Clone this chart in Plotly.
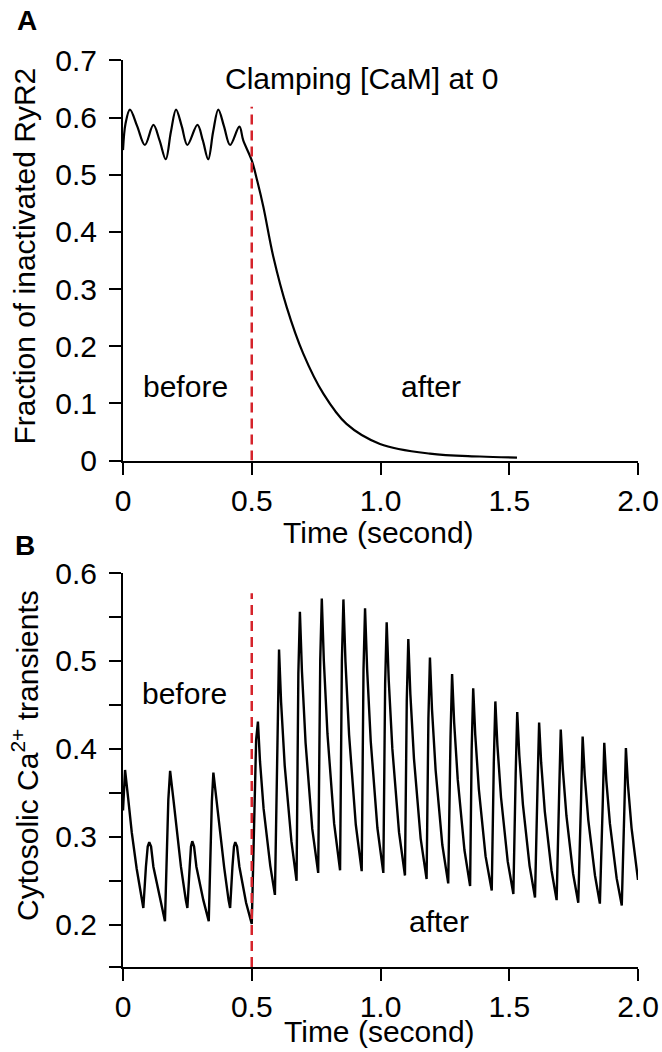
import plotly.graph_objects as go

# ---------------- Panel A: fraction of inactivated RyR2 ----------------
time_a = [0.000, 0.010, 0.027, 0.055, 0.085, 0.118, 0.142, 0.166, 0.186, 0.206,
          0.228, 0.250, 0.289, 0.310, 0.331, 0.350, 0.370, 0.392, 0.416, 0.452,
          0.467, 0.500, 0.522, 0.545, 0.584, 0.636, 0.700, 0.778, 0.868, 0.998,
          1.192, 1.386, 1.530]
ryr2_a = [0.543, 0.590, 0.614, 0.585, 0.552, 0.587, 0.560, 0.527, 0.575, 0.614,
          0.585, 0.552, 0.587, 0.560, 0.527, 0.575, 0.614, 0.585, 0.552, 0.584,
          0.560, 0.525, 0.488, 0.444, 0.356, 0.268, 0.187, 0.117, 0.064, 0.029,
          0.012, 0.007, 0.005]

# ---------------- Panel B: cytosolic Ca2+ transients ----------------
time_b = [0.000, 0.004, 0.008, 0.020, 0.034, 0.053, 0.072, 0.079,
          0.089, 0.096, 0.102, 0.109, 0.118, 0.144, 0.163,
          0.176, 0.183, 0.196, 0.209, 0.225, 0.244, 0.250,
          0.259, 0.264, 0.269, 0.276, 0.285, 0.312, 0.333,
          0.345, 0.351, 0.364, 0.377, 0.393, 0.410, 0.416,
          0.425, 0.431, 0.436, 0.443, 0.452, 0.478, 0.500,
          0.510, 0.517, 0.524, 0.532, 0.546, 0.572, 0.590,
          0.600, 0.606, 0.614, 0.628, 0.654, 0.674,
          0.681, 0.687, 0.695, 0.709, 0.735, 0.758,
          0.766, 0.772, 0.780, 0.794, 0.820, 0.843,
          0.850, 0.856, 0.864, 0.878, 0.904, 0.927,
          0.934, 0.940, 0.948, 0.962, 0.988, 1.011,
          1.018, 1.024, 1.032, 1.046, 1.072, 1.095,
          1.102, 1.108, 1.116, 1.130, 1.156, 1.179,
          1.186, 1.192, 1.200, 1.214, 1.240, 1.263,
          1.272, 1.278, 1.286, 1.300, 1.326, 1.348,
          1.354, 1.360, 1.368, 1.382, 1.408, 1.432,
          1.440, 1.446, 1.454, 1.468, 1.494, 1.516,
          1.525, 1.531, 1.539, 1.553, 1.579, 1.600,
          1.610, 1.616, 1.624, 1.638, 1.664, 1.684,
          1.694, 1.700, 1.708, 1.722, 1.748, 1.768,
          1.779, 1.785, 1.793, 1.807, 1.833, 1.852,
          1.863, 1.869, 1.877, 1.891, 1.917, 1.937,
          1.947, 1.953, 1.961, 1.975, 2.000]
ca_b = [0.330, 0.365, 0.376, 0.344, 0.305, 0.264, 0.228, 0.219,
        0.266, 0.289, 0.294, 0.289, 0.266, 0.228, 0.204,
        0.342, 0.375, 0.342, 0.305, 0.266, 0.228, 0.219,
        0.266, 0.289, 0.295, 0.289, 0.266, 0.228, 0.204,
        0.340, 0.373, 0.340, 0.303, 0.265, 0.228, 0.219,
        0.266, 0.289, 0.294, 0.289, 0.266, 0.225, 0.201,
        0.320, 0.410, 0.431, 0.386, 0.332, 0.267, 0.234,
        0.443, 0.513, 0.453, 0.381, 0.295, 0.250,
        0.486, 0.556, 0.488, 0.407, 0.309, 0.259,
        0.501, 0.571, 0.500, 0.417, 0.315, 0.262,
        0.500, 0.570, 0.499, 0.416, 0.314, 0.261,
        0.490, 0.560, 0.491, 0.409, 0.310, 0.259,
        0.474, 0.544, 0.478, 0.400, 0.305, 0.256,
        0.455, 0.525, 0.462, 0.389, 0.298, 0.252,
        0.434, 0.504, 0.445, 0.376, 0.291, 0.247,
        0.415, 0.485, 0.430, 0.365, 0.285, 0.244,
        0.399, 0.469, 0.416, 0.354, 0.278, 0.239,
        0.384, 0.454, 0.404, 0.345, 0.272, 0.235,
        0.372, 0.442, 0.393, 0.337, 0.267, 0.231,
        0.360, 0.430, 0.384, 0.329, 0.262, 0.228,
        0.352, 0.422, 0.377, 0.324, 0.258, 0.225,
        0.344, 0.414, 0.370, 0.319, 0.256, 0.224,
        0.337, 0.407, 0.364, 0.315, 0.253, 0.222,
        0.331, 0.401, 0.359, 0.310, 0.251]

# clamp marker
clamp_time = 0.5
clamp_a = [0.0, 0.619]
clamp_b = [0.152, 0.577]

# ticks
x_tickvals = [0, 0.5, 1.0, 1.5, 2.0]
x_ticktext = ["0", "0.5", "1.0", "1.5", "2.0"]
ya_tickvals = [0, 0.1, 0.2, 0.3, 0.4, 0.5, 0.6, 0.7]
ya_ticktext = ["0", "0.1", "0.2", "0.3", "0.4", "0.5", "0.6", "0.7"]
yb_tickvals = [0.152, 0.2, 0.25, 0.3, 0.35, 0.4, 0.45, 0.5, 0.55, 0.6]
yb_ticktext = ["", "0.2", "", "0.3", "", "0.4", "", "0.5", "", "0.6"]

FONT = "Liberation Sans, Arial, Helvetica, sans-serif"
RED = "#d5232b"

fig = go.Figure()
fig.add_trace(go.Scatter(x=time_a, y=ryr2_a, mode="lines", xaxis="x", yaxis="y",
                         line=dict(color="black", width=2.2, shape="spline", smoothing=1.0),
                         showlegend=False, hoverinfo="skip"))
fig.add_trace(go.Scatter(x=[clamp_time, clamp_time], y=clamp_a, mode="lines", xaxis="x", yaxis="y",
                         line=dict(color=RED, width=2.5, dash="10px,6px"),
                         showlegend=False, hoverinfo="skip"))
fig.add_trace(go.Scatter(x=time_b, y=ca_b, mode="lines", xaxis="x2", yaxis="y2",
                         line=dict(color="black", width=2.4),
                         showlegend=False, hoverinfo="skip"))
fig.add_trace(go.Scatter(x=[clamp_time, clamp_time], y=clamp_b, mode="lines", xaxis="x2", yaxis="y2",
                         line=dict(color=RED, width=2.5, dash="10px,6px"),
                         showlegend=False, hoverinfo="skip"))

axis_common = dict(showline=True, linewidth=2, linecolor="black", ticks="outside",
                   ticklen=12, tickwidth=2, tickcolor="black", showgrid=False,
                   zeroline=False, tickfont=dict(size=30, color="black", family=FONT))

fig.update_layout(
    width=662, height=1052,
    margin=dict(l=123, r=24, t=50, b=50, autoexpand=False),
    paper_bgcolor="white", plot_bgcolor="white",
    font=dict(family=FONT, color="black", size=30),
    xaxis=dict(domain=[0, 1], range=[0, 2], anchor="y", tickvals=x_tickvals,
               ticktext=x_ticktext, **axis_common),
    yaxis=dict(domain=[0.5688, 0.9891], range=[0, 0.7], anchor="x", tickvals=ya_tickvals,
               ticktext=ya_ticktext, ticklabelstandoff=6, **axis_common),
    xaxis2=dict(domain=[0, 1], range=[0, 2], anchor="y2", tickvals=x_tickvals,
                ticktext=x_ticktext, **axis_common),
    yaxis2=dict(domain=[0.0368, 0.4506], range=[0.152, 0.6], anchor="x2", tickvals=yb_tickvals,
                ticktext=yb_ticktext, ticklabelstandoff=6, **axis_common),
)

ann = []
def text(x, y, s, xref, yref, size=30, angle=0, bold=False):
    ann.append(dict(x=x, y=y, xref=xref, yref=yref, text=("<b>%s</b>" % s) if bold else s,
                    showarrow=False, xanchor="center", yanchor="middle", textangle=angle,
                    borderpad=0, font=dict(size=size, color="black", family=FONT)))

# panel letters
text(-0.1864, 1.0305, "A", "paper", "paper", size=28, bold=True)
text(-0.1903, 0.4800, "B", "paper", "paper", size=28, bold=True)
# axis titles
text(-0.1903, 0.7841, "Fraction of inactivated RyR2", "paper", "paper", angle=-90)
text(-0.1903, 0.2595, "Cytosolic Ca<sup>2+</sup> transients", "paper", "paper", angle=-90)
text(0.4963, 0.4935, "Time (second)", "paper", "paper")
text(0.4971, -0.0315, "Time (second)", "paper", "paper")
# in-plot labels
text(0.928, 0.669, "Clamping [CaM] at 0", "x", "y")
text(0.241, 0.129, "before", "x", "y")
text(1.196, 0.129, "after", "x", "y")
text(0.928, 0.6034, "Clamping [CaM] at 0", "x2", "y2")
text(0.237, 0.4625, "before", "x2", "y2")
text(1.227, 0.2034, "after", "x2", "y2")

fig.update_layout(annotations=ann)
fig.write_html("out.html", post_script="document.body.style.margin='0px';",
               config={"displayModeBar": False})
